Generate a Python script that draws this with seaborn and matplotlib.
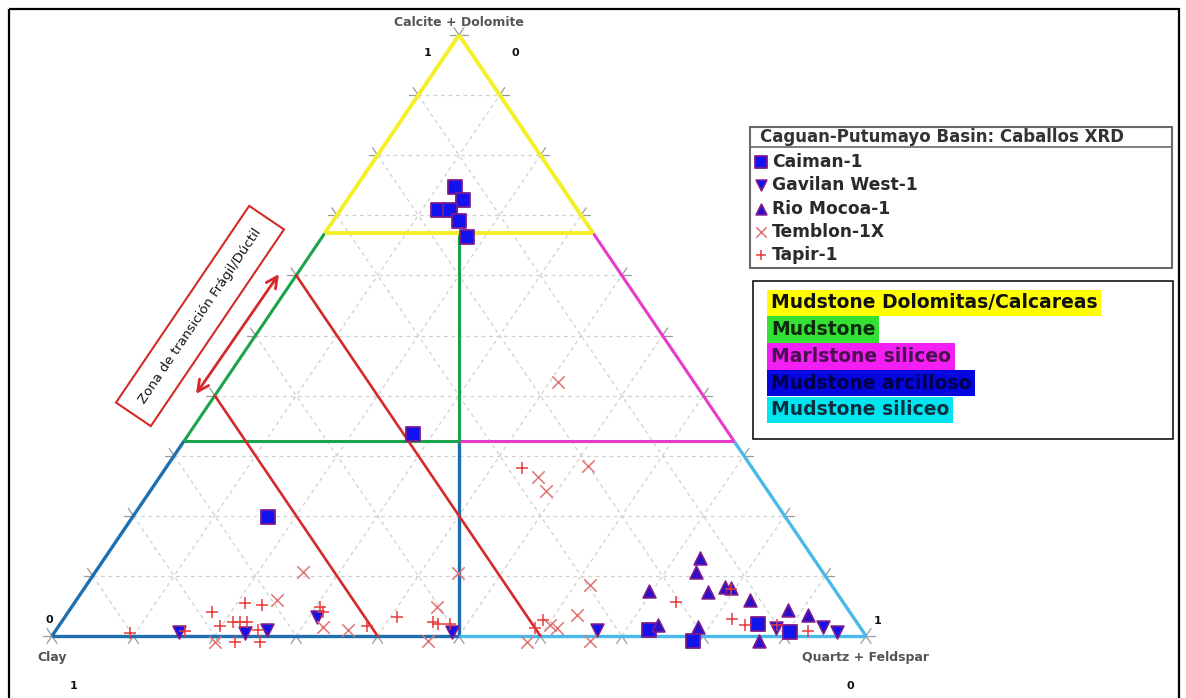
import numpy as np
import pandas as pd
import matplotlib
matplotlib.use("Agg")
import matplotlib.pyplot as plt
import seaborn as sns
from matplotlib.patches import Rectangle

# --- data: ternary compositions in % (Calcite+Dolomite, Quartz+Feldspar); Clay = rest ---
caiman_calc = [74.7, 72.5, 70.9, 70.9, 69.1, 66.4, 33.6, 19.8, 1.0, -0.8, 2.0, 0.7]
caiman_qf = [12.2, 14.2, 12.0, 13.5, 15.4, 17.8, 27.6, 16.6, 72.8, 79.2, 85.7, 90.3]

gavilan_calc = [0.7, 0.5, 1.0, 3.2, 0.7, 1.0, 1.3, 1.5, 0.7]
gavilan_qf = [15.3, 23.5, 25.9, 31.0, 48.8, 66.5, 88.3, 94.0, 96.1]

rio_calc = [13.0, 10.6, 7.5, 7.3, 8.2, 8.0, 6.0, 4.3, 3.5, 1.8, 1.5, -0.8]
rio_qf = [73.1, 73.8, 69.6, 76.9, 78.6, 79.4, 82.8, 88.3, 91.1, 73.6, 78.6, 87.2]

temblon_calc = [42.3, 26.5, 24.1, 28.3, 10.6, 6.0, 10.5, 4.8, 8.5, 3.5, 1.5, 1.0,
                1.8, 1.3, -0.8, -0.8, -1.0, -1.0]
temblon_qf = [41.0, 46.4, 48.6, 51.7, 25.5, 24.6, 44.6, 44.9, 61.9, 62.7, 32.5, 35.9,
              60.3, 61.4, 46.6, 66.5, 20.5, 58.9]

tapir_calc = [0.5, 0.8, 4.0, 5.5, 5.2, 1.7, 2.3, 2.3, 2.3, 1.0, -1.0, -1.0, 4.8, 4.0,
              1.7, 3.2, 2.3, 2.0, 2.0, 2.7, 1.3, 5.7, 2.8, 1.8, 1.8, 0.8, 7.8, 28.0]
tapir_qf = [9.3, 15.9, 17.7, 21.0, 23.2, 19.8, 21.1, 21.9, 22.8, 24.8, 23.0, 26.1, 30.5,
            31.3, 37.9, 40.8, 45.6, 46.4, 47.9, 59.0, 58.7, 73.8, 82.1, 84.2, 88.2, 92.5,
            79.5, 43.8]

wells = ["Caiman-1", "Gavilan West-1", "Rio Mocoa-1", "Temblon-1X", "Tapir-1"]
legend_title = "Caguan-Putumayo Basin: Caballos XRD"
facies = ["Mudstone Dolomitas/Calcareas", "Mudstone", "Marlstone siliceo",
          "Mudstone arcilloso", "Mudstone siliceo"]
facies_colors = ["#ffff00", "#33e033", "#f21ef2", "#0505e0", "#00e6f0"]
facies_text = ["#111111", "#0c2a0c", "#4a1050", "#000048", "#0a3040"]

# class limits (fraction of Calcite+Dolomite) and brittle/ductile clay limits
calc_upper, calc_lower = 0.67, 0.325
clay_transition = [0.4, 0.6]

# --- geometry of the triangle on the canvas (pixels) ---
X0, Y0, W, H = 52, 636, 814, 601


def tern_xy(calc, qf):
    calc = np.asarray(calc, dtype=float)
    qf = np.asarray(qf, dtype=float)
    return X0 + W * (qf + calc / 2), Y0 - H * calc


def mid_qf(c):
    return 0.5 - c / 2


sns.set_style("white")
plt.rcParams["font.family"] = ["DejaVu Sans"]

fig = plt.figure(figsize=(11.86, 6.98), dpi=100)
ax = fig.add_axes([0, 0, 1, 1])

# outer frame
ax.add_patch(Rectangle((9, 9), 1170, 700, fill=False, ec="black", lw=1.6, zorder=1))

# dashed grid and edge ticks
grid_kw = dict(color="#d0d0d0", lw=0.9, dashes=(3, 3), zorder=1)
tick_kw = dict(color="#9a9a9a", lw=0.9, zorder=1)
L = 9
for f in np.arange(1, 10) / 10:
    for a, b in [((f, 0), (f, 1 - f)), ((0, f), (1 - f, f)), ((1 - f, 0), (0, 1 - f))]:
        xs, ys = tern_xy([a[0], b[0]], [a[1], b[1]])
        ax.plot(xs, ys, **grid_kw)
n = np.hypot(W / 2, H)
for f in np.arange(0, 11) / 10:
    # bottom edge
    x, y = tern_xy(0, f)
    for dx in (-W / 2, W / 2):
        ax.plot([x, x + L * dx / n], [y, y + L * H / n], **tick_kw)
    # left edge
    x, y = tern_xy(f, 0)
    ax.plot([x, x - L], [y, y], **tick_kw)
    ax.plot([x, x - L * (W / 2) / n], [y, y - L * H / n], **tick_kw)
    # right edge
    x, y = tern_xy(f, 1 - f)
    ax.plot([x, x + L], [y, y], **tick_kw)
    ax.plot([x, x + L * (W / 2) / n], [y, y - L * H / n], **tick_kw)

# class boundaries
cu, cl = calc_upper, calc_lower
segments = [
    ("#1f6fae", [((cl, 0), (0, 0)), ((0, 0), (0, 0.5)), ((cl, mid_qf(cl)), (0, 0.5))], 2.4),
    ("#48b9e8", [((cl, 1 - cl), (0, 1)), ((0, 0.5), (0, 1))], 2.4),
    ("#e63cc8", [((cu, 1 - cu), (cl, 1 - cl)), ((cl, mid_qf(cl)), (cl, 1 - cl))], 2.2),
    ("#1aa34a", [((cu, 0), (cl, 0)), ((cl, 0), (cl, mid_qf(cl))),
                 ((cu, mid_qf(cu)), (cl, mid_qf(cl)))], 2.2),
    ("#f5ef2a", [((1, 0), (cu, 0)), ((1, 0), (cu, 1 - cu)), ((cu, 0), (cu, 1 - cu))], 2.8),
]
for col, segs, lw in segments:
    for a, b in segs:
        xs, ys = tern_xy([a[0], b[0]], [a[1], b[1]])
        ax.plot(xs, ys, color=col, lw=lw, solid_capstyle="butt", zorder=2)

# brittle / ductile transition lines (constant clay)
red = "#d42a2a"
for c in clay_transition:
    xs, ys = tern_xy([1 - c, 0], [0, 1 - c])
    ax.plot(xs, ys, color=red, lw=1.9, zorder=2)

# data points
frames = []
for well, cs, qs in [(wells[0], caiman_calc, caiman_qf), (wells[1], gavilan_calc, gavilan_qf),
                     (wells[2], rio_calc, rio_qf), (wells[3], temblon_calc, temblon_qf),
                     (wells[4], tapir_calc, tapir_qf)]:
    frames.append(pd.DataFrame({"well": well, "calc": np.array(cs) / 100,
                                "qf": np.array(qs) / 100}))
df = pd.concat(frames, ignore_index=True)
df["x"], df["y"] = tern_xy(df["calc"], df["qf"])

styles = {
    "Caiman-1": dict(marker="s", color="#1212ee", edgecolor="#7d1a8c", s=100, linewidth=1.3),
    "Gavilan West-1": dict(marker="v", color="#1212ee", edgecolor="#7d1a8c", s=85, linewidth=1.2),
    "Rio Mocoa-1": dict(marker="^", color="#2a10c8", edgecolor="#7d1a8c", s=85, linewidth=1.2),
    "Temblon-1X": dict(marker="x", color="#e27373", s=80, linewidth=1.1),
    "Tapir-1": dict(marker="+", color="#e83a3a", s=85, linewidth=1.1),
}
for well in wells:
    sub = df[df["well"] == well]
    sns.scatterplot(data=sub, x="x", y="y", ax=ax, legend=False, zorder=4, **styles[well])
ax.set_xlim(0, 1186)
ax.set_ylim(698, 0)
ax.axis("off")

# axis labels
lab_kw = dict(fontsize=9, fontweight="bold", color="#555555", ha="center", va="center")
num_kw = dict(fontsize=8, fontweight="bold", color="#111111", ha="center", va="center")
ax.text(459, 22, "Calcite + Dolomite", **lab_kw)
ax.text(428, 53, "1", **num_kw)
ax.text(515, 53, "0", **num_kw)
ax.text(52, 658, "Clay", **lab_kw)
ax.text(49, 620, "0", **num_kw)
ax.text(74, 686, "1", **num_kw)
ax.text(866, 658, "Quartz + Feldspar", **lab_kw)
ax.text(878, 621, "1", **num_kw)
ax.text(850, 686, "0", **num_kw)

# transition annotation
ang = np.degrees(np.arctan2(H, W / 2))
ax.text(200, 316, "Zona de transición Frágil/Dúctil", rotation=ang, rotation_mode="anchor",
        ha="center", va="center", fontsize=9.5, color="#111111", zorder=5,
        bbox=dict(boxstyle="square,pad=1.1", fc="white", ec=red, lw=1.5))
ax.annotate("", xy=(196, 394), xytext=(279, 274), zorder=5,
            arrowprops=dict(arrowstyle="<->", color=red, lw=2, mutation_scale=20,
                            shrinkA=0, shrinkB=0))

# legend 1: wells
ax.add_patch(Rectangle((750, 127), 422, 141, fill=False, ec="#6a6a6a", lw=1.5, zorder=5))
ax.plot([750, 1172], [147, 147], color="#6a6a6a", lw=1.2, zorder=5)
ax.text(760, 137, legend_title, fontsize=12, fontweight="bold", color="#333333",
        ha="left", va="center", zorder=6)
for i, well in enumerate(wells):
    yy = 162 + i * 23.3
    st = styles[well]
    ax.scatter([761], [yy], marker=st["marker"], c=st["color"],
               edgecolors=st.get("edgecolor", st["color"]),
               s=st["s"] * 0.7, linewidths=st["linewidth"], zorder=6)
    ax.text(772, yy, well, fontsize=12.3, fontweight="bold", color="#2a2a2a",
            ha="left", va="center", zorder=6)

# legend 2: facies classes
ax.add_patch(Rectangle((753, 281), 420, 158, fill=False, ec="black", lw=1.1, zorder=5))
for i, (name, fc, tc) in enumerate(zip(facies, facies_colors, facies_text)):
    yy = 303 + i * 26.7
    ax.text(771, yy, name, fontsize=13.5, fontweight="bold", color=tc, ha="left",
            va="center", zorder=6,
            bbox=dict(boxstyle="square,pad=0.2", fc=fc, ec="none"))

fig.savefig("out.png", dpi=100)
